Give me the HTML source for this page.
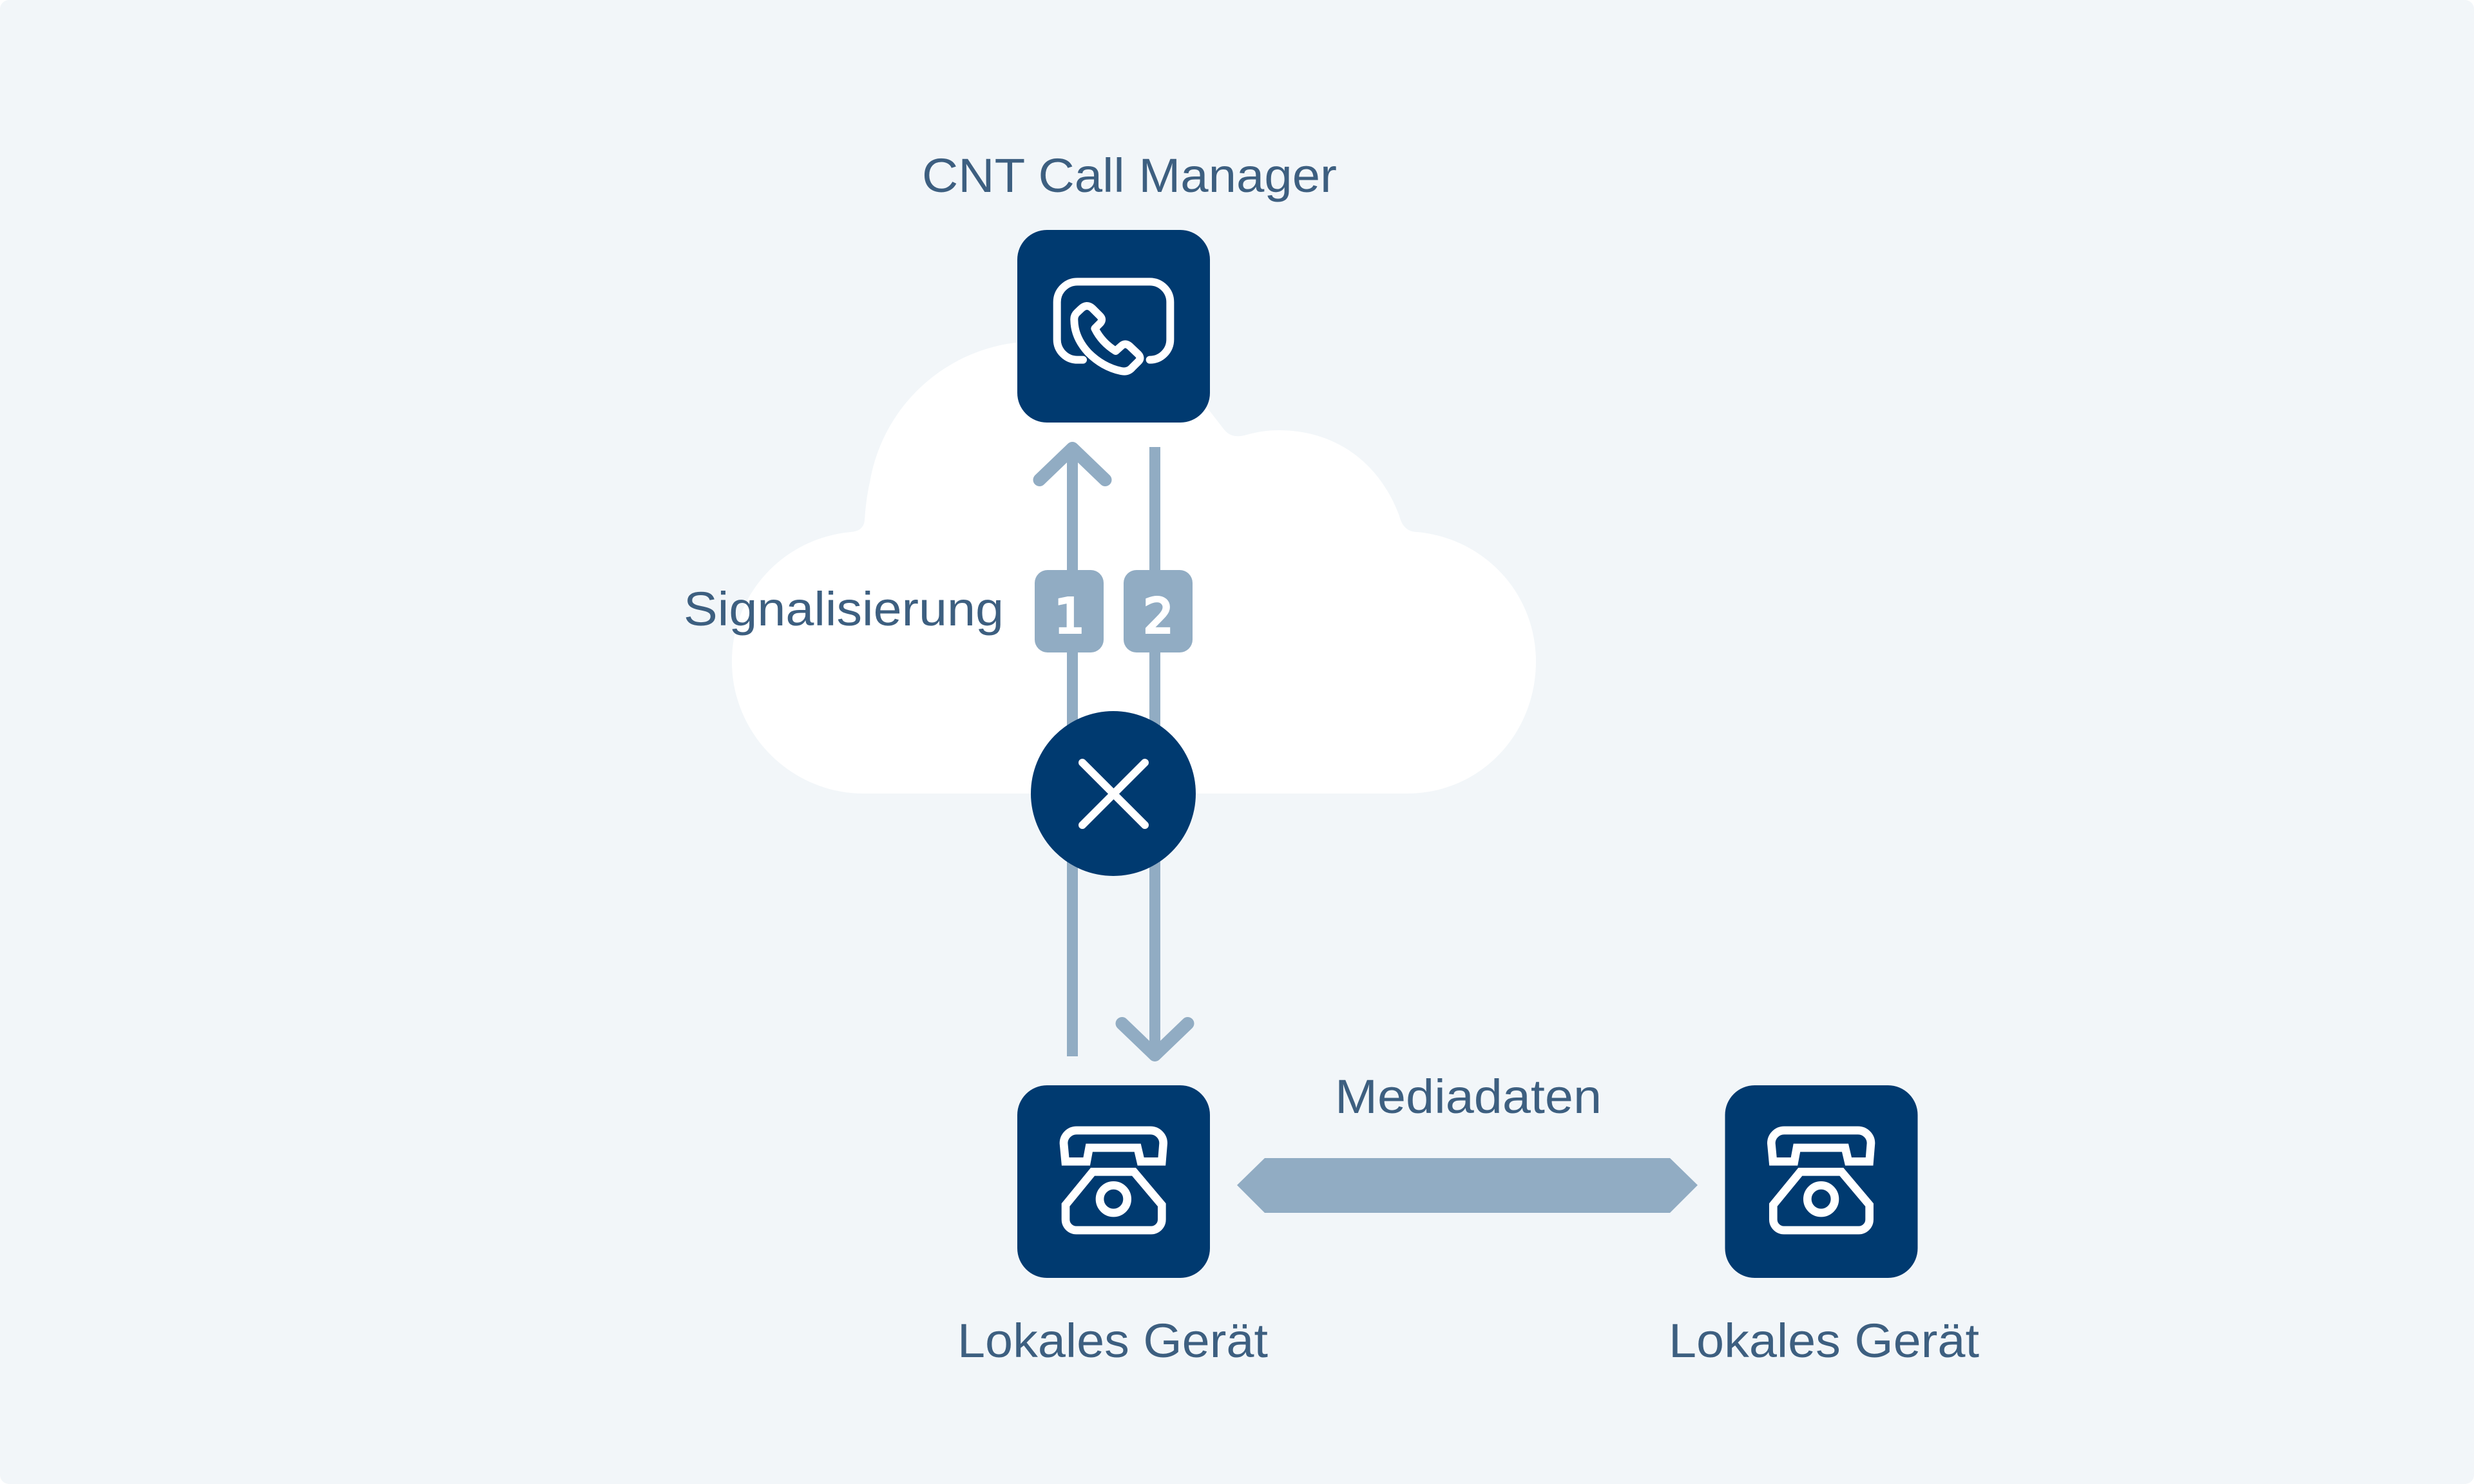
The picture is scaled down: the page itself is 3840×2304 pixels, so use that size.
<!DOCTYPE html>
<html lang="de">
<head>
<meta charset="utf-8">
<title>CNT Call Manager</title>
<style>
html,body{margin:0;padding:0;width:3840px;height:2304px;background:#fff;overflow:hidden}
svg{display:block}
text{font-family:"Liberation Sans",sans-serif;fill:#3d5f80;font-size:74px}
</style>
</head>
<body>
<svg width="3840" height="2304" viewBox="0 0 3840 2304" xmlns="http://www.w3.org/2000/svg">
<defs>
<g id="tel" fill="none" stroke="#fff" stroke-width="38" stroke-linejoin="miter">
<path d="M341,730 L333,645 A60,60 0 0 1 393,585 L737,585 A60,60 0 0 1 797,645 L790,730 L692,730 L677,666 L452,666 L440,730 Z"/>
<path d="M468,778 L660,778 L790,932 L790,1000 A50,50 0 0 1 740,1050 L392,1050 A50,50 0 0 1 342,1000 L342,932 Z"/>
<circle cx="565" cy="905" r="64"/>
</g>
</defs>
<rect width="3840" height="2304" rx="14" fill="#f2f6f9"/>

<!-- cloud -->
<path fill="#fff" d="M1341,1232 C1228,1232 1136,1140 1136,1027 C1136,922 1216,836 1320,826 Q1340,825 1342,808 Q1344,775 1350,749 A262,262 0 0 1 1610,530 C1720,530 1820,565 1876,636 L1900,667 Q1912,682 1935,675 C1950,671 1965,668 1985,668 C2070,668 2140,715 2172,801 Q2178,826 2200,826 C2305,836 2384,922 2384,1027 C2384,1140 2297,1232 2184,1232 Z"/>

<!-- arrows -->
<g fill="none" stroke="#91acc3">
<line x1="1664.5" y1="700" x2="1664.5" y2="1640" stroke-width="17"/>
<line x1="1792.5" y1="694" x2="1792.5" y2="1640" stroke-width="17"/>
<polyline points="1613.5,745 1664.5,696 1715.5,745" stroke-width="20" stroke-linecap="round" stroke-linejoin="round"/>
<polyline points="1741.5,1589 1792.5,1638 1843.5,1589" stroke-width="20" stroke-linecap="round" stroke-linejoin="round"/>
</g>

<!-- badges -->
<rect x="1606" y="885" width="107" height="128" rx="20" fill="#91acc3"/>
<rect x="1744" y="885" width="107" height="128" rx="20" fill="#91acc3"/>
<text x="1660" y="982" text-anchor="middle" style="fill:#fff;stroke:#fff;stroke-width:4;font-family:'DejaVu Sans',sans-serif;font-size:74px">1</text>
<text x="1798" y="982" text-anchor="middle" style="fill:#fff;stroke:#fff;stroke-width:4;font-family:'DejaVu Sans',sans-serif;font-size:74px">2</text>

<!-- X circle -->
<circle cx="1728" cy="1232" r="128" fill="#003a70"/>
<path d="M1680,1184 L1777,1281 M1777,1184 L1680,1281" stroke="#fff" stroke-width="12" stroke-linecap="round" fill="none"/>

<!-- top box -->
<rect x="1579" y="357" width="299" height="299" rx="46" fill="#003a70"/>
<g transform="translate(1540,320) scale(.33333)" fill="none" stroke="#fff" stroke-width="36" stroke-linecap="round" stroke-linejoin="round">
<path d="M423,716 L397,716 A95,95 0 0 1 302,621 L302,447 A95,95 0 0 1 397,352 L734,352 A95,95 0 0 1 829,447 L829,621 A95,95 0 0 1 734,716"/>
<path d="M412,480 Q440,452 466,476 L502,512 Q518,528 503,545 L478,570 Q510,635 575,675 L603,650 Q620,635 640,652 L680,690 Q697,708 680,724 L652,752 Q632,775 600,768 Q515,750 447,682 Q383,612 382,532 Q380,510 395,496 Z"/>
</g>

<!-- bottom boxes -->
<rect x="1579" y="1685" width="299" height="299" rx="46" fill="#003a70"/>
<use href="#tel" transform="translate(1540,1560) scale(.33333)"/>
<rect x="2677.5" y="1685" width="299" height="299" rx="46" fill="#003a70"/>
<use href="#tel" transform="translate(2638.3,1560) scale(.33333)"/>

<!-- media bar -->
<polygon points="1920,1840 1963,1798 2592,1798 2635,1840 2592,1883 1963,1883" fill="#91acc3"/>

<!-- labels -->
<text x="1431" y="298" textLength="644" lengthAdjust="spacingAndGlyphs">CNT Call Manager</text>
<text x="1061" y="971" textLength="497" lengthAdjust="spacingAndGlyphs">Signalisierung</text>
<text x="2072" y="1728" textLength="414" lengthAdjust="spacingAndGlyphs">Mediadaten</text>
<text x="1486" y="2107" textLength="482" lengthAdjust="spacingAndGlyphs">Lokales Gerät</text>
<text x="2590" y="2107" textLength="482" lengthAdjust="spacingAndGlyphs">Lokales Gerät</text>
</svg>
</body>
</html>
